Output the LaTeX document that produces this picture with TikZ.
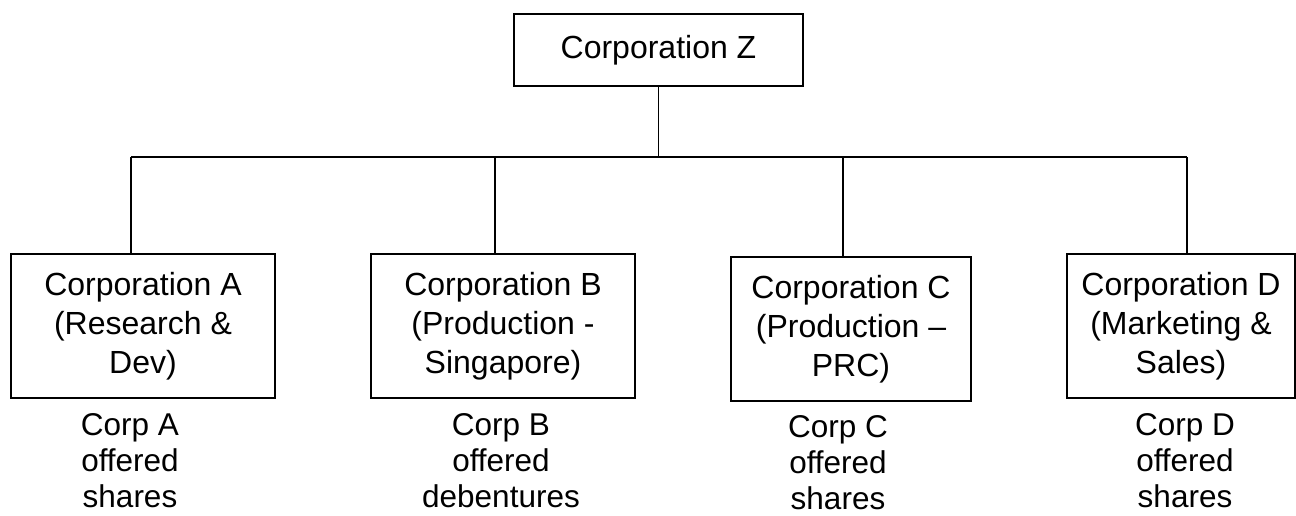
\documentclass[tikz,border=0pt]{standalone}
\usepackage{fontspec}
\setmainfont{Liberation Sans}
\begin{document}
\begin{tikzpicture}[x=1pt,y=-1pt,
  corpbox/.style={draw=black, line width=1.6pt, align=center, inner sep=0pt,
    font=\fontsize{32}{39}\selectfont},
  offerlbl/.style={align=center, inner sep=0pt, font=\fontsize{31.5}{36}\selectfont},
  link/.style={draw=black, line width=1.6pt}]
\useasboundingbox (0,0) rectangle (1296,515);
\fill[white] (0,0) rectangle (1296,515);

\node[corpbox, minimum width=289pt, minimum height=72pt] (Z) at (658.5,50) {Corporation Z};

\node[corpbox, minimum width=264pt, minimum height=144pt] (A) at (143,326) {Corporation A\\(Research \&\\Dev)};
\node[corpbox, minimum width=264pt, minimum height=144pt] (B) at (503,326) {Corporation B\\(Production -\\Singapore)};
\node[corpbox, minimum width=240pt, minimum height=144pt] (C) at (851,329) {Corporation C\\(Production --\\PRC)};
\node[corpbox, minimum width=228pt, minimum height=144pt] (D) at (1181,326) {Corporation D\\(Marketing \&\\Sales)};

\coordinate (bA) at (131,157);
\coordinate (bB) at (495,157);
\coordinate (bC) at (843,157);
\coordinate (bD) at (1187,157);
\coordinate (bZ) at (658.5,157);

\draw[link] (Z.south) -- (bZ);
\draw[link] (bA) -- (bD);
\draw[link] (bA) -- (bA |- A.north);
\draw[link] (bB) -- (bB |- B.north);
\draw[link] (bC) -- (bC |- C.north);
\draw[link] (bD) -- (bD |- D.north);

\node[offerlbl] (oA) at (130,461) {Corp A\\offered\\shares};
\node[offerlbl] (oB) at (501,461) {Corp B\\offered\\debentures};
\node[offerlbl] (oC) at (838,462.5) {Corp C\\offered\\shares};
\node[offerlbl] (oD) at (1185,461) {Corp D\\offered\\shares};
\end{tikzpicture}
\end{document}
